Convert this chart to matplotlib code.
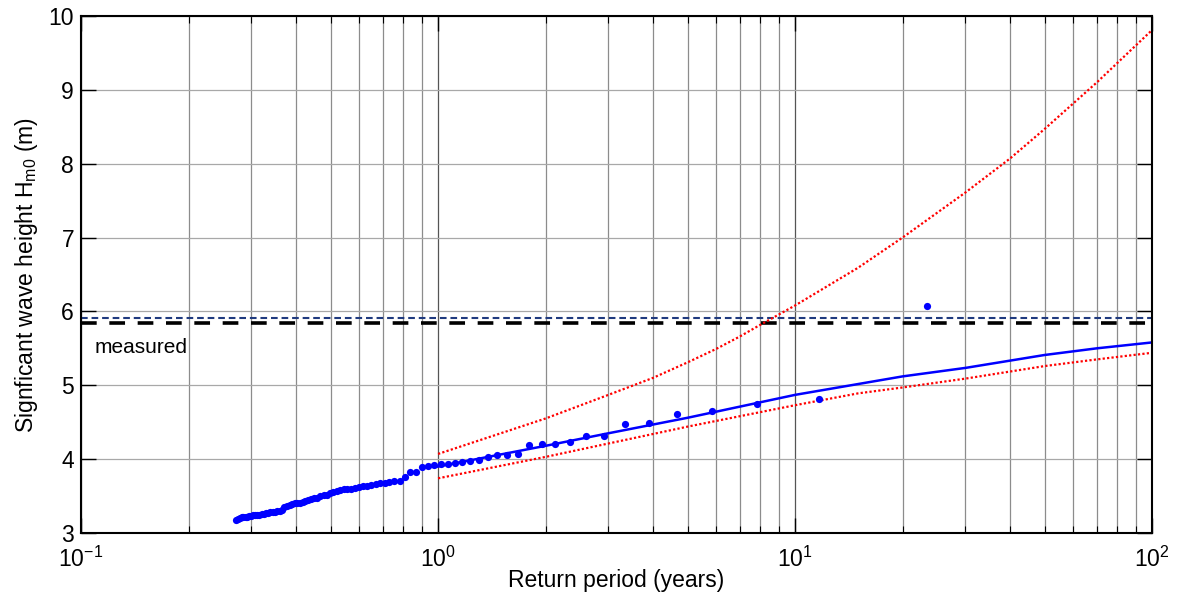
import matplotlib
matplotlib.use('Agg')
import matplotlib.pyplot as plt

plt.rcParams['font.family'] = ['Liberation Sans', 'DejaVu Sans']
plt.rcParams['mathtext.fontset'] = 'custom'
plt.rcParams['mathtext.rm'] = 'Liberation Sans'
plt.rcParams['mathtext.it'] = 'Liberation Sans:italic'
plt.rcParams['lines.scale_dashes'] = False

# empirical return periods (years) and measured Hm0 (m), largest first
ret_period = [23.4, 11.7, 7.8, 5.85, 4.68, 3.9, 3.343, 2.925, 2.6, 2.34,
              2.127, 1.95, 1.8, 1.671, 1.56, 1.4625, 1.376, 1.3, 1.232, 1.17,
              1.114, 1.064, 1.017, 0.975, 0.936, 0.9, 0.867, 0.836, 0.807, 0.78,
              0.755, 0.731, 0.709, 0.688, 0.669, 0.65, 0.632, 0.616, 0.6, 0.585,
              0.571, 0.557, 0.544, 0.532, 0.52, 0.509, 0.498, 0.4875, 0.478, 0.468,
              0.459, 0.45, 0.442, 0.433, 0.425, 0.418, 0.411, 0.403, 0.397, 0.39,
              0.384, 0.377, 0.371, 0.366, 0.36, 0.355, 0.349, 0.344, 0.339, 0.334,
              0.330, 0.325, 0.321, 0.316, 0.312, 0.308, 0.304, 0.300, 0.296, 0.2925,
              0.289, 0.285, 0.282, 0.279, 0.275, 0.272]
hm0 = [6.08, 4.82, 4.74, 4.65, 4.61, 4.49, 4.47, 4.31, 4.31, 4.23,
       4.21, 4.21, 4.19, 4.07, 4.05, 4.05, 4.03, 3.99, 3.98, 3.96,
       3.95, 3.94, 3.93, 3.92, 3.91, 3.89, 3.82, 3.82, 3.76, 3.71,
       3.70, 3.69, 3.68, 3.67, 3.66, 3.65, 3.64, 3.63, 3.62, 3.61,
       3.60, 3.595, 3.59, 3.58, 3.57, 3.56, 3.54, 3.52, 3.51, 3.50,
       3.48, 3.47, 3.46, 3.44, 3.43, 3.42, 3.41, 3.41, 3.40, 3.39,
       3.38, 3.37, 3.35, 3.31, 3.30, 3.30, 3.29, 3.28, 3.28, 3.27,
       3.27, 3.26, 3.26, 3.25, 3.25, 3.24, 3.24, 3.23, 3.23, 3.22,
       3.22, 3.21, 3.21, 3.20, 3.19, 3.18]

# fitted distribution
fit_T = [1, 2, 3, 5, 10, 20, 30, 50, 70, 100]
fit_H = [3.90, 4.18, 4.35, 4.56, 4.87, 5.12, 5.235, 5.41, 5.50, 5.58]

# confidence bounds
up_T = [1, 2, 3, 4, 5, 6, 7, 8, 10, 15, 20, 30, 40, 50, 70, 100]
up_H = [4.07, 4.55, 4.87, 5.10, 5.31, 5.49, 5.66, 5.82, 6.08, 6.59, 7.00,
        7.61, 8.07, 8.47, 9.10, 9.81]
lo_T = [1, 2, 5, 10, 15, 20, 30, 50, 70, 100]
lo_H = [3.74, 4.03, 4.44, 4.73, 4.89, 4.97, 5.09, 5.26, 5.35, 5.44]

h_measured = 5.84
h_level = 5.91

fig = plt.figure(figsize=(11.78, 5.92), dpi=100)
ax = fig.add_axes([0.0688, 0.0997, 0.9092, 0.8733])

ax.axhline(h_level, color='#1f3a7f', lw=1.5, dashes=(4.8, 2.8))
ax.axhline(h_measured, color='k', lw=2.6, dashes=(11.3, 9.1))
ax.plot(up_T, up_H, color='red', lw=1.6, dashes=(1.6, 1.6))
ax.plot(lo_T, lo_H, color='red', lw=1.6, dashes=(1.6, 1.6))
ax.plot(fit_T, fit_H, color='#0000ff', lw=1.8)
ax.plot(ret_period, hm0, 'o', color='#0000ff', ms=5.2, mec='none')

ax.text(0.109, 5.51, 'measured', va='center', ha='left', fontsize=15)

ax.set_xscale('log')
ax.set_xlim(0.1, 100)
ax.set_ylim(3, 10)
ax.set_yticks(range(3, 11))

ax.grid(which='major', axis='y', color='#a8a8a8', lw=0.9)
ax.grid(which='major', axis='x', color='#555555', lw=0.9)
ax.grid(which='minor', axis='x', color='#8c8c8c', lw=0.9)
ax.set_axisbelow(True)

ax.tick_params(which='both', direction='in', top=True, right=True, labelsize=16.5)
ax.tick_params(which='major', length=11, width=1)
ax.tick_params(which='minor', length=5, width=0.8)
ax.tick_params(axis='x', which='major', pad=10)
ax.tick_params(axis='y', pad=5)
for s in ax.spines.values():
    s.set_linewidth(1.5)

ax.set_xlabel('Return period (years)', fontsize=16.5, labelpad=-2)
ax.set_ylabel('Signficant wave height H$_{\\mathrm{m0}}$ (m)', fontsize=16.5, labelpad=6)

plt.savefig('out.png', dpi=100)
